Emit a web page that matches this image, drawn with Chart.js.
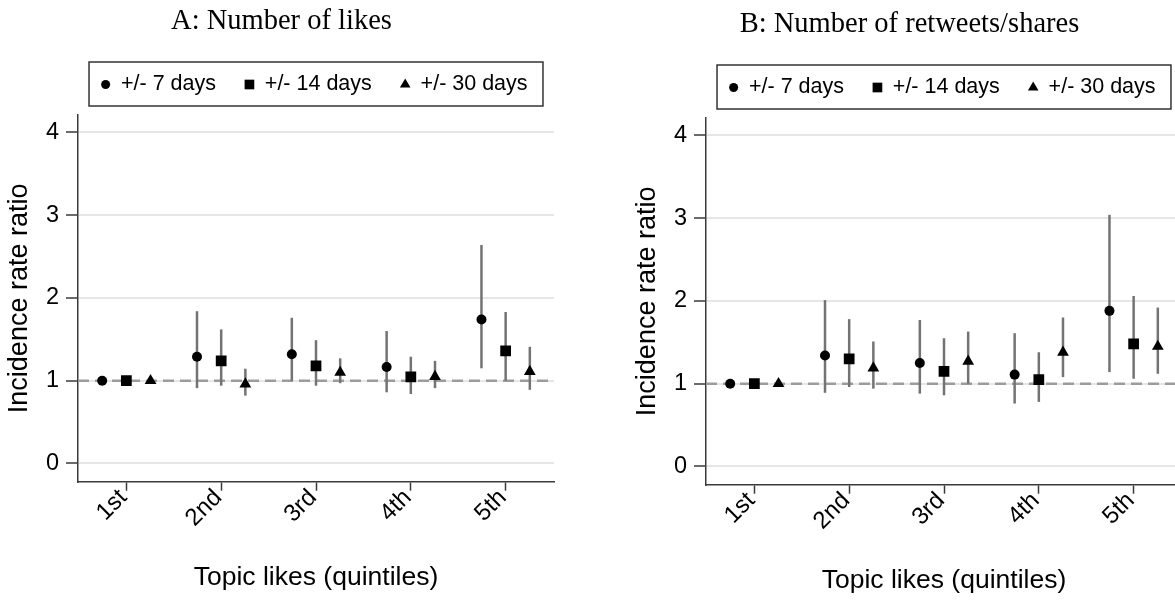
<!DOCTYPE html>
<html>
<head>
<meta charset="utf-8">
<script src="https://cdn.jsdelivr.net/npm/chart.js@4/dist/chart.umd.min.js"></script>
<style>
  html, body { margin: 0; padding: 0; background: #fff; }
  body { width: 1175px; height: 600px; overflow: hidden; position: relative; }
  canvas { position: absolute; }
  #likesChart { left: 0; top: 0; }
  #sharesChart { left: 628px; top: 3px; }
</style>
</head>
<body>
<canvas id="likesChart" width="563" height="600"></canvas>
<canvas id="sharesChart" width="563" height="600"></canvas>
<script>
const quintiles = ['1st', '2nd', '3rd', '4th', '5th'];
const windowLabels = ['+/- 7 days', '+/- 14 days', '+/- 30 days'];
const yTicks = [0, 1, 2, 3, 4];
const refLine = 1;

// A: likes, incidence rate ratios with 95% CI
const likes7 = [1.00, 1.29, 1.32, 1.165, 1.74];
const likes7Lo = [1.00, 0.91, 1.00, 0.86, 1.15];
const likes7Hi = [1.00, 1.84, 1.76, 1.60, 2.64];
const likes14 = [1.00, 1.24, 1.18, 1.045, 1.36];
const likes14Lo = [1.00, 0.94, 0.94, 0.84, 1.00];
const likes14Hi = [1.00, 1.62, 1.49, 1.29, 1.83];
const likes30 = [1.00, 0.96, 1.10, 1.05, 1.11];
const likes30Lo = [1.00, 0.82, 0.97, 0.91, 0.89];
const likes30Hi = [1.00, 1.145, 1.27, 1.24, 1.41];

// B: retweets/shares
const shares7 = [1.00, 1.34, 1.25, 1.11, 1.88];
const shares7Lo = [1.00, 0.89, 0.88, 0.76, 1.14];
const shares7Hi = [1.00, 2.01, 1.77, 1.61, 3.04];
const shares14 = [1.00, 1.30, 1.15, 1.05, 1.48];
const shares14Lo = [1.00, 0.96, 0.86, 0.78, 1.06];
const shares14Hi = [1.00, 1.78, 1.55, 1.38, 2.06];
const shares30 = [1.00, 1.19, 1.27, 1.38, 1.45];
const shares30Lo = [1.00, 0.94, 1.00, 1.08, 1.12];
const shares30Hi = [1.00, 1.51, 1.63, 1.80, 1.92];

const SANS = "'Liberation Sans', Arial, sans-serif";
const SERIF = "'Liberation Serif', 'Times New Roman', serif";
const AXIS = '#3a3a3a';

// marker per estimation window, shifted left/right of the quintile tick
const markers = [
  { pointStyle: 'circle', radius: 5, shift: -0.255 },
  { pointStyle: 'rect', radius: 7.6, shift: 0 },
  { pointStyle: 'triangle', radius: 6.8, shift: 0.255 },
];

// dashed line at IRR = 1 and the confidence interval spikes
const errorBars = {
  id: 'errorBars',
  beforeDatasetsDraw(chart) {
    const { ctx, chartArea, scales: { x, y } } = chart;
    ctx.save();
    const yRef = y.getPixelForValue(refLine);
    ctx.strokeStyle = '#9c9c9c';
    ctx.lineWidth = 2.5;
    ctx.setLineDash([11, 6]);
    ctx.beginPath();
    ctx.moveTo(chartArea.left, yRef);
    ctx.lineTo(chartArea.right, yRef);
    ctx.stroke();
    ctx.setLineDash([]);
    ctx.strokeStyle = '#737373';
    ctx.lineWidth = 2.5;
    chart.data.datasets.forEach(ds => {
      ds.data.forEach((pt, i) => {
        if (ds.lo[i] === ds.hi[i]) return;
        const px = x.getPixelForValue(pt.x);
        ctx.beginPath();
        ctx.moveTo(px, y.getPixelForValue(ds.lo[i]));
        ctx.lineTo(px, y.getPixelForValue(ds.hi[i]));
        ctx.stroke();
      });
    });
    ctx.restore();
  }
};

// boxed legend above the plot region
const boxLegend = {
  id: 'boxLegend',
  afterDraw(chart) {
    const { ctx, chartArea } = chart;
    const sets = chart.data.datasets;
    ctx.save();
    ctx.font = '21.5px ' + SANS;
    const widths = sets.map(ds => ctx.measureText(ds.label).width);
    const padL = 16.6, padR = 15.4, toText = 15.4, gap = 33.4;
    const total = padL + padR + widths.reduce((a, w) => a + toText + w, 0) + gap * (sets.length - 1);
    const left = (chartArea.left + chartArea.right) / 2 - total / 2;
    const top = chartArea.top - 53;
    const h = 44;
    const cy = top + h / 2 + 0.5;

    ctx.strokeStyle = '#333';
    ctx.lineWidth = 1.5;
    ctx.strokeRect(left, top, total, h);

    let cx = left + padL;
    sets.forEach((ds, i) => {
      ctx.fillStyle = '#000';
      Chart.helpers.drawPoint(ctx, { pointStyle: ds.pointStyle, radius: ds.pointRadius * 0.9, rotation: 0, borderWidth: 0 }, cx, cy);
      ctx.textAlign = 'left';
      ctx.textBaseline = 'middle';
      ctx.fillText(ds.label, cx + toText, cy);
      cx += toText + widths[i] + gap;
    });
    ctx.restore();
  }
};

function makePanel(id, titleText, series) {
  const datasets = series.map((s, k) => ({
    label: windowLabels[k],
    data: s.irr.map((v, i) => ({ x: i + 1 + markers[k].shift, y: v })),
    lo: s.lo,
    hi: s.hi,
    pointStyle: markers[k].pointStyle,
    pointRadius: markers[k].radius,
    pointHoverRadius: markers[k].radius,
    backgroundColor: '#000',
    borderWidth: 0,
    showLine: false
  }));

  return new Chart(document.getElementById(id), {
    type: 'scatter',
    data: { datasets },
    plugins: [errorBars, boxLegend],
    options: {
      responsive: false,
      animation: false,
      devicePixelRatio: 1,
      layout: { padding: { left: 9, right: 9, top: 0, bottom: 0 } },
      plugins: {
        legend: { display: false },
        tooltip: { enabled: false },
        title: {
          display: true,
          text: titleText,
          color: '#000',
          font: { family: SERIF, size: 28.5, weight: 'normal' },
          padding: { top: 4.6, bottom: 76.2 }
        }
      },
      scales: {
        x: {
          type: 'linear',
          min: 0.49,
          max: 5.51,
          afterBuildTicks: s => { s.ticks = quintiles.map((_, i) => ({ value: i + 1 })); },
          afterFit: s => { s.height = 118.3; },
          ticks: {
            autoSkip: false,
            minRotation: 45,
            maxRotation: 45,
            labelOffset: -3,
            padding: -7,
            color: '#000',
            font: { family: SANS, size: 24 },
            callback: (v, i) => quintiles[i]
          },
          grid: { drawOnChartArea: false, tickLength: 9, tickColor: AXIS, tickWidth: 1.5 },
          border: { color: AXIS, width: 1.5 },
          title: {
            display: true,
            text: 'Topic likes (quintiles)',
            color: '#000',
            font: { family: SANS, size: 26.5 },
            padding: { top: 0, bottom: 6 }
          }
        },
        y: {
          min: -0.22,
          max: 4.21,
          afterBuildTicks: s => { s.ticks = yTicks.map(v => ({ value: v })); },
          afterFit: s => { s.width = 69; },
          ticks: { padding: 7, color: '#000', font: { family: SANS, size: 23.5 } },
          grid: { color: '#e6e6e6', lineWidth: 2, tickLength: 12, tickColor: AXIS, tickWidth: 1.5 },
          border: { color: AXIS, width: 1.5 },
          title: {
            display: true,
            text: 'Incidence rate ratio',
            color: '#000',
            font: { family: SANS, size: 27, lineHeight: 0.8 },
            padding: { top: 0, bottom: 0 }
          }
        }
      }
    }
  });
}

makePanel('likesChart', 'A: Number of likes', [
  { irr: likes7, lo: likes7Lo, hi: likes7Hi },
  { irr: likes14, lo: likes14Lo, hi: likes14Hi },
  { irr: likes30, lo: likes30Lo, hi: likes30Hi }
]);

makePanel('sharesChart', 'B: Number of retweets/shares', [
  { irr: shares7, lo: shares7Lo, hi: shares7Hi },
  { irr: shares14, lo: shares14Lo, hi: shares14Hi },
  { irr: shares30, lo: shares30Lo, hi: shares30Hi }
]);
</script>
</body>
</html>
